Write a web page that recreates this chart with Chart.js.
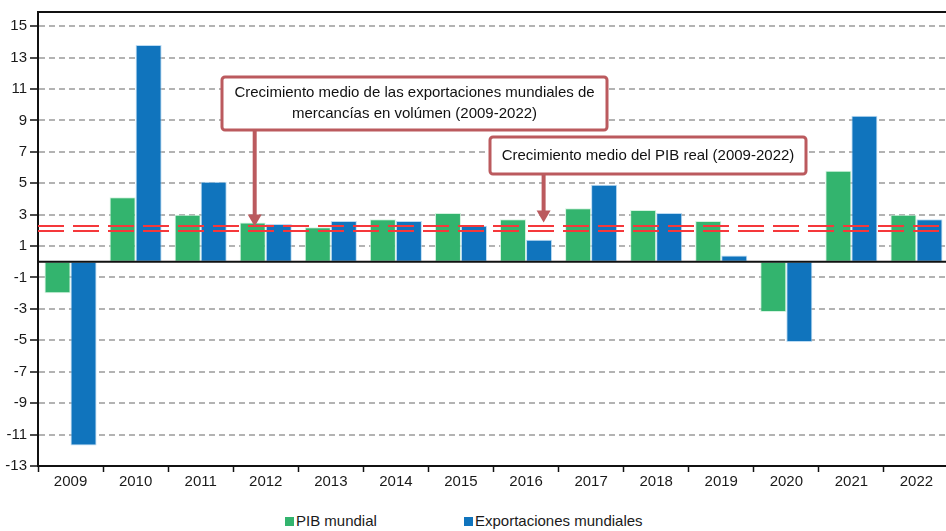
<!DOCTYPE html>
<html>
<head>
<meta charset="utf-8">
<script src="https://cdn.jsdelivr.net/npm/chart.js@4.4.0/dist/chart.umd.min.js"></script>
<style>
  body { margin: 0; background: #fff; overflow: hidden; width: 946px; height: 531px; position: relative; font-family: "Liberation Sans", Arial, sans-serif; }
  #wrap { position: absolute; left: 0; top: 0; width: 950px; height: 500px; }
  .legend { position: absolute; top: 512px; font-size: 15px; color: #1a1a1a; white-space: nowrap; }
  .legend i { display: inline-block; width: 9px; height: 9px; margin-right: 2px; vertical-align: 0px; }
</style>
</head>
<body>
<div id="wrap"><canvas id="chart" width="950" height="500"></canvas></div>
<div class="legend" style="left:285px"><i style="background:#33b46e"></i>PIB mundial</div>
<div class="legend" style="left:464px"><i style="background:#1074bd"></i>Exportaciones mundiales</div>
<script>
// =============== DATA ===============
const years = ["2009", "2010", "2011", "2012", "2013", "2014", "2015", "2016", "2017", "2018", "2019", "2020", "2021", "2022"];
const pibMundial = [-2.0, 4.1, 3.0, 2.5, 2.2, 2.7, 3.1, 2.7, 3.4, 3.3, 2.6, -3.2, 5.8, 3.0];
const exportaciones = [-11.7, 13.8, 5.1, 2.4, 2.6, 2.6, 2.3, 1.4, 4.9, 3.1, 0.4, -5.1, 9.3, 2.7];
const yTicks = [-13, -11, -9, -7, -5, -3, -1, 1, 3, 5, 7, 9, 11, 13, 15];
// average growth lines (exports, GDP)
const medias = [2.25, 1.97];

const FONT = "'Liberation Sans', Arial, sans-serif";
const boxColor = "#bb5a5e";

// =============== PLUGINS ===============
// zero line + red average lines drawn over the bars
const refLines = {
  id: "refLines",
  afterDatasetsDraw(chart) {
    const { ctx, chartArea, scales } = chart;
    ctx.save();
    const y0 = scales.y.getPixelForValue(0);
    ctx.strokeStyle = "#111";
    ctx.lineWidth = 2;
    ctx.beginPath();
    ctx.moveTo(chartArea.left, y0);
    ctx.lineTo(chartArea.right, y0);
    ctx.stroke();

    ctx.strokeStyle = "#f5383b";
    ctx.lineWidth = 2;
    ctx.setLineDash([26, 9]);
    medias.forEach(v => {
      const y = Math.round(scales.y.getPixelForValue(v));
      ctx.beginPath();
      ctx.moveTo(chartArea.left, y);
      ctx.lineTo(chartArea.right, y);
      ctx.stroke();
    });
    ctx.restore();
  },
};

// callout boxes with arrows pointing at the average lines
const callouts = [
  { box: [222, 77, 385, 53], lines: ["Crecimiento medio de las exportaciones mundiales de", "mercancías en volúmen (2009-2022)"], tipX: 2.83, tipV: medias[0] },
  { box: [490, 137, 316, 37], lines: ["Crecimiento medio del PIB real (2009-2022)"], tipX: 7.27, tipV: medias[0] + 0.25 },
];

const calloutPlugin = {
  id: "callouts",
  afterDraw(chart) {
    const { ctx, scales } = chart;
    ctx.save();
    callouts.forEach(c => {
      const [bx, by, bw, bh] = c.box;
      const ax = scales.x.getPixelForValue(c.tipX);
      const tipY = scales.y.getPixelForValue(c.tipV);
      // arrow
      ctx.strokeStyle = boxColor;
      ctx.fillStyle = boxColor;
      ctx.lineWidth = 4;
      ctx.beginPath();
      ctx.moveTo(ax, by + bh);
      ctx.lineTo(ax, tipY - 10);
      ctx.stroke();
      ctx.beginPath();
      ctx.moveTo(ax - 7, tipY - 12);
      ctx.lineTo(ax + 7, tipY - 12);
      ctx.lineTo(ax, tipY);
      ctx.closePath();
      ctx.fill();
      // box
      ctx.fillStyle = "#fff";
      ctx.lineWidth = 3;
      ctx.beginPath();
      ctx.roundRect(bx, by, bw, bh, 3);
      ctx.fill();
      ctx.stroke();
      // text
      ctx.fillStyle = "#111";
      ctx.font = "15px " + FONT;
      ctx.textAlign = "center";
      ctx.textBaseline = "middle";
      const lh = 21;
      const startY = by + bh / 2 - (c.lines.length - 1) * lh / 2;
      c.lines.forEach((t, i) => ctx.fillText(t, bx + bw / 2, startY + i * lh));
    });
    ctx.restore();
  },
};

// =============== CHART ===============
new Chart(document.getElementById("chart"), {
  type: "bar",
  data: {
    labels: years,
    datasets: [
      { label: "PIB mundial", data: pibMundial, backgroundColor: "#33b46e", borderColor: "rgba(200,240,215,0.8)", borderWidth: 1, borderSkipped: false },
      { label: "Exportaciones mundiales", data: exportaciones, backgroundColor: "#1074bd", borderColor: "rgba(170,210,240,0.8)", borderWidth: 1, borderSkipped: false },
    ],
  },
  options: {
    responsive: false,
    animation: false,
    layout: { padding: { top: 10, right: 1, left: 0, bottom: 0 } },
    datasets: { bar: { categoryPercentage: 0.8, barPercentage: 1 } },
    plugins: {
      legend: { display: false },
      tooltip: { enabled: false },
    },
    scales: {
      x: {
        type: "category",
        offset: true,
        afterFit: (s) => { s.height = 34; },
        grid: { offset: true, drawOnChartArea: false, drawTicks: true, tickLength: 6, tickColor: "#111", tickWidth: 1.5 },
        border: { display: true, color: "#111", width: 2 },
        ticks: { color: "#1a1a1a", font: { family: FONT, size: 15 }, padding: 1, maxRotation: 0 },
      },
      x2: {
        position: "top",
        afterFit: (s) => { s.height = 0; },
        grid: { display: false },
        ticks: { display: false },
        border: { display: true, color: "#111", width: 2 },
      },
      y: {
        min: -13,
        max: 15.9,
        afterFit: (s) => { s.width = 38; },
        afterBuildTicks: (s) => { s.ticks = yTicks.map(v => ({ value: v })); },
        grid: { color: "#b3b3b3", lineWidth: 2, tickLength: 8, tickColor: "#111", tickWidth: 1.5, tickBorderDash: [] },
        border: { display: true, color: "#111", width: 2, dash: [6, 4] },
        ticks: { color: "#1a1a1a", font: { family: FONT, size: 15 }, padding: 3 },
      },
    },
  },
  plugins: [refLines, calloutPlugin],
});
</script>
</body>
</html>
